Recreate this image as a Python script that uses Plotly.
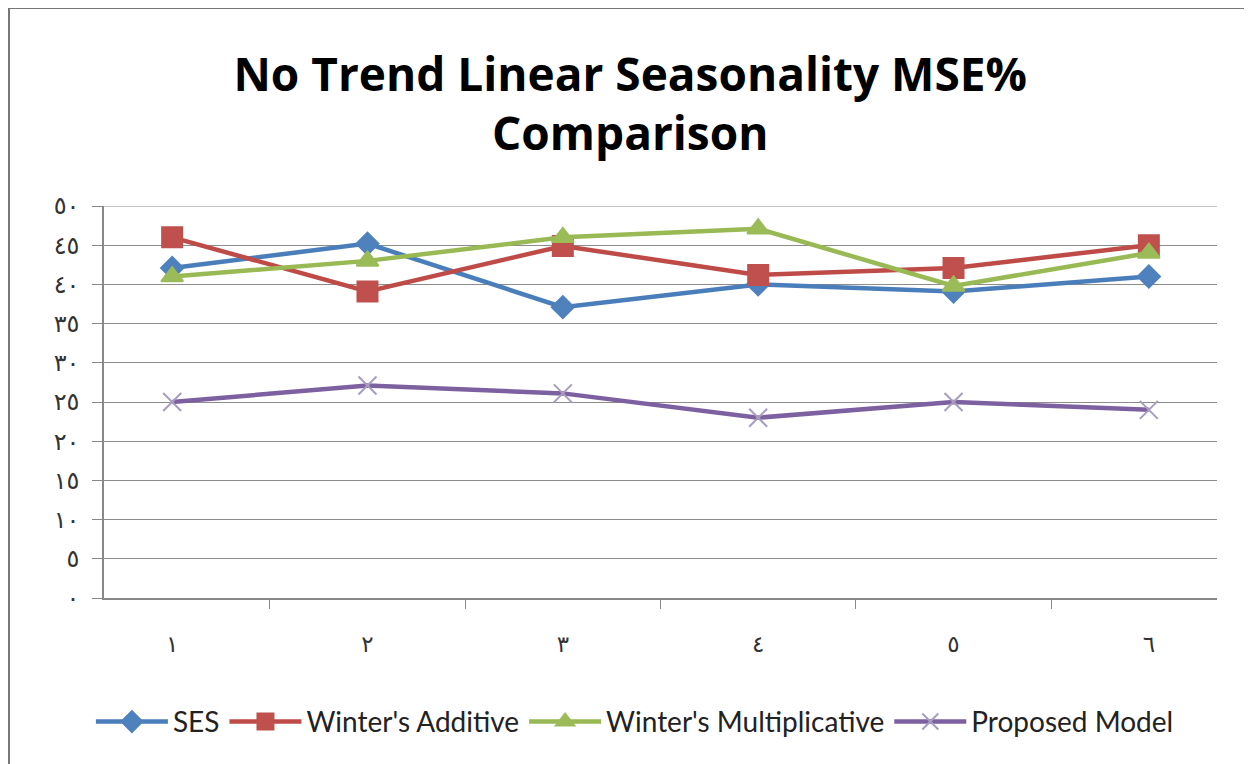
import plotly.graph_objects as go

categories = ["١", "٢", "٣", "٤", "٥", "٦"]
ses = [42.1, 45.2, 37.1, 40.0, 39.1, 41.0]
additive = [46.0, 39.1, 44.9, 41.2, 42.1, 45.0]
multiplicative = [41.0, 43.0, 46.0, 47.1, 39.8, 44.0]
proposed = [25.0, 27.1, 26.1, 23.0, 25.0, 24.0]

y_tick_vals = [0, 5, 10, 15, 20, 25, 30, 35, 40, 45, 50]
y_tick_text = ["٠", "٥", "١٠", "١٥", "٢٠", "٢٥", "٣٠", "٣٥", "٤٠", "٤٥", "٥٠"]

series = [
    ("SES", ses, "#4A7EBB", "#4F81BD", "diamond", 17),
    ("Winter's Additive", additive, "#BE4B48", "#C0504D", "square", 20),
    ("Winter's Multiplicative", multiplicative, "#98B954", "#9BBB59", "triangle-up", 19),
    ("Proposed Model", proposed, "#7D60A0", "#A89CC0", "x-thin-open", 18),
]

fig = go.Figure()
for name, vals, lc, mc, sym, size in series:
    fig.add_trace(go.Scatter(
        x=categories, y=vals, name=name, mode="lines+markers",
        line=dict(color=lc, width=4.5),
        marker=dict(symbol=sym, size=size, color=mc,
                    line=dict(color=mc, width=2)),
    ))

fig.update_layout(
    width=1252, height=764,
    paper_bgcolor="white", plot_bgcolor="white",
    margin=dict(l=96, r=43, t=198, b=174),
    title=dict(text="No Trend Linear Seasonality MSE%<br>Comparison",
               x=0.497, xanchor="center", y=0.892, yanchor="middle",
               font=dict(family="Open Sans", size=46, color="black", weight="bold")),
    showlegend=True,
    legend=dict(orientation="h", x=0.477, xanchor="center", y=-0.316, yanchor="middle",
                font=dict(family="Lato", size=28, color="#222"),
                itemwidth=72, tracegroupgap=0),
    font=dict(family="DejaVu Sans"),
)
fig.update_xaxes(
    type="category", tickson="boundaries", ticks="outside", ticklen=9,
    tickcolor="#888", showline=True, linecolor="#888", linewidth=1.5,
    showgrid=False, tickfont=dict(family="DejaVu Sans", size=23, color="#333"),
    ticklabelstandoff=25,
)
fig.update_yaxes(
    range=[0, 50], tickvals=y_tick_vals, ticktext=y_tick_text,
    ticks="outside", ticklen=10, tickcolor="#888",
    showline=True, linecolor="#888", linewidth=1.5,
    showgrid=True, gridcolor="#8c8c8c", gridwidth=1, zeroline=False,
    tickfont=dict(family="DejaVu Sans", size=24, color="#333"),
    ticklabelstandoff=8,
)
# top gridline at the axis maximum
fig.add_shape(type="line", xref="paper", yref="y", x0=0, x1=1,
              y0=y_tick_vals[-1], y1=y_tick_vals[-1],
              line=dict(color="#8c8c8c", width=1), layer="below")
# chart area frame
fig.add_shape(type="rect", xref="paper", yref="paper",
              x0=(9 - 104) / 1113, x1=(1245 - 104) / 1113,
              y0=(598 - 790) / 392, y1=(598 - 8) / 392,
              line=dict(color="#777", width=2), layer="below")

fig.write_html("out.html")
